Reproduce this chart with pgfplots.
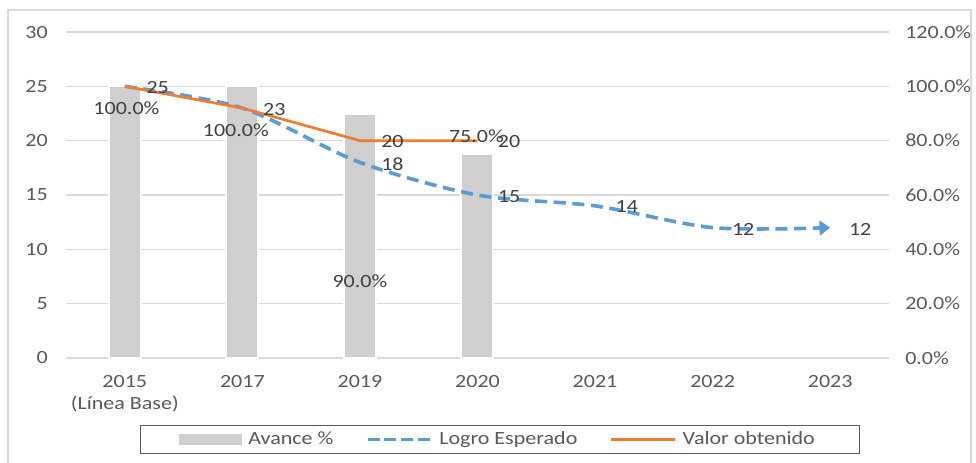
\documentclass[border=0pt]{standalone}
\usepackage{fontspec}
\setmainfont{Carlito}[FakeStretch=1.18]
\usepackage{pgfplots}
\pgfplotsset{compat=1.18}
\usetikzlibrary{arrows.meta}
\definecolor{txt}{HTML}{595959}
\definecolor{lbl}{HTML}{404040}
\definecolor{gridc}{HTML}{D9D9D9}
\definecolor{barc}{HTML}{D0CECE}
\definecolor{blu}{HTML}{5B9BD5}
\definecolor{ora}{HTML}{ED7D31}
\begin{document}
\begin{tikzpicture}
\useasboundingbox (0,0) rectangle (732pt,346.5pt);
\draw[gridc, line width=0.8pt] (6pt,-3pt) rectangle (728.25pt,339pt);
\pgfplotsset{
  base/.style={
    at={(49.5pt,78pt)}, anchor=south west, scale only axis,
    width=617.25pt, height=244.5pt,
    xmin=-0.5, xmax=6.5,
    major tick length=0pt,
    /pgf/number format/assume math mode=true,
    tick label style={font=\fontsize{14}{16.5}\selectfont, text=txt},
  }
}
% bars on the right (percent) axis
\begin{axis}[base,
  ymin=0, ymax=120,
  axis y line*=right, axis x line*=bottom,
  y axis line style={draw=none},
  x axis line style={draw=gridc, line width=1pt, -},
  ytick={0,20,...,120},
  yticklabel={\pgfmathprintnumber[fixed,fixed zerofill,precision=1]{\tick}\%},
  yticklabel style={anchor=west, inner sep=0pt, xshift=12pt},
  ymajorgrids, grid style={gridc, line width=0.8pt},
  xtick={0,1,2,3,4,5,6},
  xticklabels={{2015\\(Línea Base)},2017,2019,2020,2021,2022,2023},
  xticklabel style={align=center, anchor=north, inner sep=0pt, yshift=-12.5pt},
  ybar, bar width=24pt,
]
\addplot[fill=barc, draw=white, line width=1.5pt] coordinates {(0,100) (1,100) (2,90) (3,75)};
\end{axis}
% lines on the left axis
\begin{axis}[base,
  ymin=0, ymax=30, clip=false,
  axis y line*=left, axis x line=none,
  y axis line style={draw=none},
  ytick={0,5,...,30},
  yticklabel style={anchor=east, inner sep=0pt, xshift=-13.5pt},
  legend columns=3,
  legend style={at={(0.5274,-0.25)}, anchor=center, draw=black!65, line width=0.8pt,
    font=\fontsize{14}{16.5}\selectfont, text=txt, inner xsep=29pt, inner ysep=3pt,
    nodes={inner xsep=4.5pt},
    /tikz/every even column/.append style={column sep=20pt}},
]
\addlegendimage{legend image code/.code={\fill[barc] (0pt,-4pt) rectangle (46.5pt,4pt);}}
\addlegendentry{Avance \%}
\addplot[blu, smooth, line width=2.7pt, dash pattern=on 9pt off 5pt,
  -{Triangle[length=8pt,width=11pt]},
  legend image code/.code={\draw[-, blu, line width=2.5pt, dash pattern=on 9pt off 3.5pt] (0pt,0pt) -- (48pt,0pt);}]
  coordinates {(0,25) (1,23) (2,18) (3,15) (4,14) (5,12) (6,12)};
\addlegendentry{Logro Esperado}
\addplot[ora, line width=2pt,
  legend image code/.code={\draw[-, ora, line width=2pt] (0pt,0pt) -- (48pt,0pt);}]
  coordinates {(0,25) (1,23) (2,20) (3,20)};
\addlegendentry{Valor obtenido}
\begin{scope}[every node/.style={text=lbl, inner sep=0pt, font=\fontsize{14}{16.5}\selectfont}]
\node at (axis cs:0.28,24.9) {25};
\node at (axis cs:0.014,22.96) {100.0\%};
\node at (axis cs:1.272,22.9) {23};
\node at (axis cs:0.945,20.98) {100.0\%};
\node at (axis cs:2.277,19.9) {20};
\node at (axis cs:2.277,17.85) {18};
\node at (axis cs:2.0,7.09) {90.0\%};
\node at (axis cs:2.991,20.43) {75.0\%};
\node at (axis cs:3.268,19.9) {20};
\node at (axis cs:3.268,14.9) {15};
\node at (axis cs:4.27,13.9) {14};
\node at (axis cs:5.26,11.87) {12};
\node at (axis cs:6.255,11.87) {12};
\end{scope}
\end{axis}
\end{tikzpicture}
\end{document}
